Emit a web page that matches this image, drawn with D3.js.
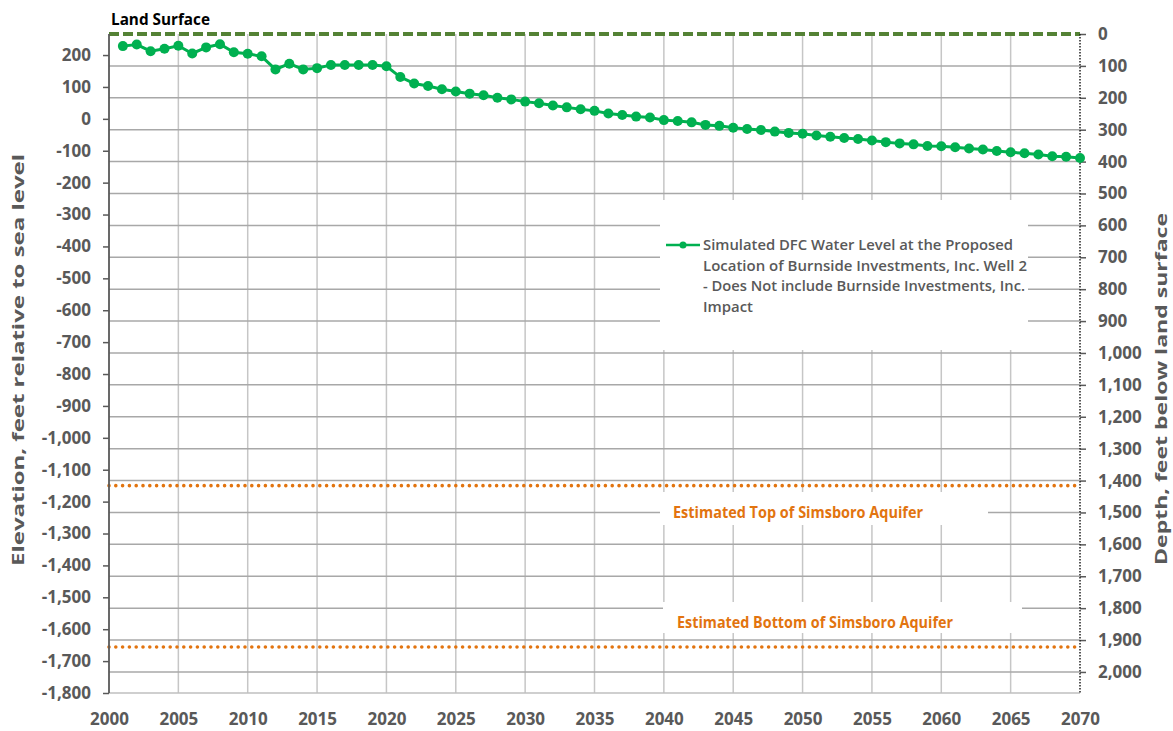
<!DOCTYPE html>
<html>
<head>
<meta charset="utf-8">
<script src="https://cdn.jsdelivr.net/npm/d3@7"></script>
<style>
  html, body { margin: 0; padding: 0; background: #fff; }
  svg { display: block; font-family: "Open Sans", "Liberation Sans", sans-serif; }
</style>
</head>
<body>
<svg id="chart" width="1173" height="731"></svg>
<script>
// ---------- data ----------
const years = d3.range(2001, 2071);
const waterLevel = [
  228, 233, 212, 220, 229, 205, 224, 234, 209, 204,
  196, 155, 173, 155, 159, 169, 169, 169, 169, 165,
  131, 111, 103, 93, 86, 79, 74, 66, 61, 54,
  49, 42, 36, 30, 25, 17, 12, 7, 4, -4,
  -7, -11, -19, -22, -28, -32, -35, -40, -44, -47,
  -52, -56, -60, -63, -68, -73, -77, -80, -85, -86,
  -89, -93, -96, -101, -105, -108, -112, -117, -119, -123
];
const landSurface = 266;
const simsboroTop = -1150;
const simsboroBottom = -1656;
const xTicks = d3.range(2000, 2071, 5);
const leftTicks = d3.range(-1800, 201, 100);
const rightTicks = d3.range(0, 2001, 100);
const legendLines = [
  "Simulated DFC Water Level at the Proposed",
  "Location of Burnside Investments, Inc. Well 2",
  "- Does Not include Burnside Investments, Inc.",
  "Impact"
];
const labelTop = "Estimated Top of Simsboro Aquifer";
const labelBottom = "Estimated Bottom of Simsboro Aquifer";

// ---------- layout ----------
const L = 109, R = 1080, T = 34, B = 693;
const svg = d3.select("#chart");
const x = d3.scaleLinear().domain([2000, 2070]).range([L, R]);
const yL = d3.scaleLinear().domain([-1800, landSurface]).range([B, T]);
const yR = d3.scaleLinear().domain([0, landSurface + 1800]).range([T, B]);
const gray = "#595959";

// vertical gridlines
svg.append("g").selectAll("line").data(xTicks.filter(d => d > 2000 && d < 2070)).join("line")
  .attr("x1", d => x(d)).attr("x2", d => x(d)).attr("y1", T).attr("y2", B)
  .attr("stroke", "#c6c6c6").attr("stroke-width", 1.5);
// horizontal gridlines (from right depth axis)
svg.append("g").selectAll("line").data(rightTicks.filter(d => d > 0)).join("line")
  .attr("x1", L).attr("x2", R).attr("y1", d => yR(d)).attr("y2", d => yR(d))
  .attr("stroke", "#a8a8a8").attr("stroke-width", 1.5);

// bottom axis line
svg.append("line").attr("x1", L).attr("x2", R).attr("y1", B).attr("y2", B)
  .attr("stroke", "#bfbfbf").attr("stroke-width", 1.5);

// white boxes behind legend and labels
svg.append("rect").attr("x", 660).attr("y", 200).attr("width", 368).attr("height", 150).attr("fill", "#fff");
svg.append("rect").attr("x", 660).attr("y", 492).attr("width", 328).attr("height", 33).attr("fill", "#fff");
svg.append("rect").attr("x", 663).attr("y", 602).attr("width", 359).attr("height", 31).attr("fill", "#fff");

// aquifer dotted lines
[simsboroTop, simsboroBottom].forEach(v => {
  svg.append("path")
    .attr("d", d3.line()([[x(2000), yL(v)], [x(2070), yL(v)]]))
    .attr("stroke", "#E2740F").attr("stroke-width", 3.6)
    .attr("stroke-dasharray", "0,6.8").attr("stroke-linecap", "round").attr("fill", "none");
});

// land surface dashed line
svg.append("path")
  .attr("d", d3.line()([[x(2000), yL(landSurface)], [x(2070), yL(landSurface)]]))
  .attr("stroke", "#548235").attr("stroke-width", 4)
  .attr("stroke-dasharray", "10,4").attr("fill", "none");

// left axis
const leftAxis = svg.append("g").attr("transform", `translate(${L},0)`)
  .call(d3.axisLeft(yL).tickValues(leftTicks).tickSize(6).tickPadding(12).tickFormat(d3.format(",")));
leftAxis.select(".domain").remove();
leftAxis.selectAll(".tick line").attr("stroke", gray).attr("stroke-width", 1.5);
leftAxis.selectAll("text").attr("fill", gray).attr("font-size", 17).attr("font-weight", 700)
  .attr("font-family", "Open Sans").text(d => d3.format(",")(d).replace("−", "-"));
svg.append("line").attr("x1", L).attr("x2", L).attr("y1", T).attr("y2", B)
  .attr("stroke", gray).attr("stroke-width", 1.8);

// right axis
const rightAxis = svg.append("g").attr("transform", `translate(${R},0)`)
  .call(d3.axisRight(yR).tickValues(rightTicks).tickSize(6).tickPadding(12).tickFormat(d3.format(",")));
rightAxis.select(".domain").remove();
rightAxis.selectAll(".tick line").attr("stroke", gray).attr("stroke-width", 1.5);
rightAxis.selectAll("text").attr("fill", gray).attr("font-size", 17).attr("font-weight", 700)
  .attr("font-family", "Open Sans");
svg.append("line").attr("x1", R).attr("x2", R).attr("y1", T).attr("y2", B)
  .attr("stroke", "#222").attr("stroke-width", 1.5).attr("stroke-dasharray", "1.5,1.5");

// bottom axis labels
const bottomAxis = svg.append("g").attr("transform", `translate(0,${B})`)
  .call(d3.axisBottom(x).tickValues(xTicks).tickSize(0).tickPadding(20).tickFormat(d3.format("d")));
bottomAxis.select(".domain").remove();
bottomAxis.selectAll("text").attr("fill", gray).attr("font-size", 17).attr("font-weight", 700)
  .attr("font-family", "Open Sans");

// water level series
const pts = years.map((yr, i) => [yr, waterLevel[i]]);
svg.append("path").datum(pts)
  .attr("d", d3.line().x(d => x(d[0])).y(d => yL(d[1])))
  .attr("stroke", "#00B050").attr("stroke-width", 3).attr("fill", "none");
svg.append("g").selectAll("circle").data(pts).join("circle")
  .attr("cx", d => x(d[0])).attr("cy", d => yL(d[1])).attr("r", 5).attr("fill", "#00B050");

// legend
svg.append("line").attr("x1", 666).attr("x2", 700).attr("y1", 245).attr("y2", 245)
  .attr("stroke", "#00B050").attr("stroke-width", 2.5);
svg.append("circle").attr("cx", 683).attr("cy", 245).attr("r", 3.5).attr("fill", "#00B050");
const legWidths = [310, 324, 322, 50];
svg.append("g").selectAll("text").data(legendLines).join("text")
  .attr("x", 703).attr("y", (d, i) => 245 + i * 20.7).attr("dy", "0.35em")
  .attr("font-size", 14.5).attr("font-weight", 600).attr("fill", gray)
  .attr("textLength", (d, i) => legWidths[i]).attr("lengthAdjust", "spacingAndGlyphs")
  .text(d => d);

// aquifer labels
svg.append("text").attr("x", 673).attr("y", 512).attr("dy", "0.35em")
  .attr("font-size", 16).attr("font-weight", 700).attr("fill", "#E2740F")
  .attr("textLength", 250).attr("lengthAdjust", "spacingAndGlyphs").text(labelTop);
svg.append("text").attr("x", 677).attr("y", 622).attr("dy", "0.35em")
  .attr("font-size", 16).attr("font-weight", 700).attr("fill", "#E2740F")
  .attr("textLength", 276).attr("lengthAdjust", "spacingAndGlyphs").text(labelBottom);

// land surface label
svg.append("text").attr("x", 111).attr("y", 19).attr("dy", "0.35em")
  .attr("font-size", 16).attr("font-weight", 700).attr("fill", "#000")
  .attr("textLength", 99).attr("lengthAdjust", "spacingAndGlyphs").text("Land Surface");

// axis titles
svg.append("text").attr("transform", "translate(18,360) rotate(-90)")
  .attr("text-anchor", "middle").attr("dy", "0.35em")
  .attr("font-size", 16).attr("font-weight", 700).attr("fill", gray)
  .attr("textLength", 412).attr("lengthAdjust", "spacingAndGlyphs")
  .text("Elevation, feet relative to sea level");
svg.append("text").attr("transform", "translate(1161,389) rotate(-90)")
  .attr("text-anchor", "middle").attr("dy", "0.35em")
  .attr("font-size", 16).attr("font-weight", 700).attr("fill", gray)
  .attr("textLength", 352).attr("lengthAdjust", "spacingAndGlyphs")
  .text("Depth, feet below land surface");
</script>
</body>
</html>
